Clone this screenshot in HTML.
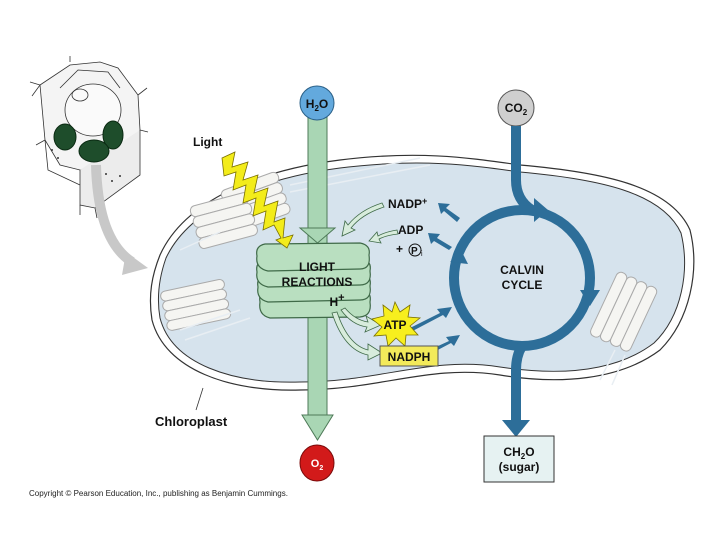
<!DOCTYPE html>
<html><head><style>
html,body{margin:0;padding:0;background:#fff;}
svg{display:block;font-family:"Liberation Sans",Arial,sans-serif;}
</style></head><body>
<svg width="720" height="540" viewBox="0 0 720 540">
<!-- plant cell sketch -->
<g stroke="#333" stroke-width="0.8" fill="#f4f4f4">
<path d="M40 85 L70 65 L100 62 L118 68 L138 95 L140 130 L130 155 L100 165 L80 170 L60 165 L45 140 Z"/>
<path d="M80 170 L80 205 L95 208 L140 175 L140 130" fill="#ececec"/>
<path d="M45 140 L48 170 L80 185" fill="none"/>
<ellipse cx="93" cy="110" rx="28" ry="26" fill="#fafafa"/>
<path d="M60 88 L78 70 L108 72 L120 88" fill="none"/>
<ellipse cx="80" cy="95" rx="8" ry="6" fill="none"/>
<path d="M70 62 L70 56 M40 85 L30 82 M40 85 L32 96 M138 95 L147 88 M140 130 L148 132 M80 205 L80 215 M95 208 L97 218 M45 140 L36 145"/>
</g>
<g fill="#333"><circle cx="98" cy="178" r="1"/><circle cx="106" cy="174" r="1"/><circle cx="112" cy="181" r="1"/><circle cx="100" cy="188" r="1"/><circle cx="120" cy="176" r="1"/><circle cx="52" cy="150" r="1"/><circle cx="58" cy="158" r="1"/></g>
<g fill="#1e4d2b" stroke="#0a2a12" stroke-width="1">
<ellipse cx="65" cy="137" rx="11" ry="13"/>
<ellipse cx="113" cy="135" rx="10" ry="14"/>
<ellipse cx="94" cy="151" rx="15" ry="11"/>
</g>
<!-- grey curved arrow -->
<path d="M96 165 Q98 240 132 262" stroke="#c8c8c8" stroke-width="10" fill="none"/>
<polygon points="126,252 148,268 122,275" fill="#c8c8c8"/>

<!-- chloroplast -->
<path d="M160 255 C185 200 260 170 340 160 C420 150 470 158 520 165 C600 172 670 185 690 230 C700 270 690 320 660 350 C620 380 560 385 500 375 C430 364 380 390 300 390 C230 392 165 370 152 320 C148 295 152 275 160 255 Z" fill="#fff" stroke="#333" stroke-width="1.2"/>
<path d="M166 258 C190 207 262 178 340 168 C420 158 470 165 520 172 C598 179 662 192 681 233 C690 270 682 316 654 343 C616 372 560 376 500 367 C430 356 380 382 300 382 C232 384 172 364 160 318 C156 295 160 275 166 258 Z" fill="#d6e3ed" stroke="#333" stroke-width="1"/>
<line x1="203" y1="388" x2="196" y2="410" stroke="#333" stroke-width="0.8"/>

<!-- background thylakoids -->
<g fill="#f5f5f2" stroke="#aaa" stroke-width="1">
<g transform="rotate(-20 255 200)"><rect x="225" y="180" width="60" height="11" rx="5"/><rect x="225" y="191" width="60" height="11" rx="5"/><rect x="225" y="202" width="60" height="11" rx="5"/><rect x="225" y="213" width="60" height="11" rx="5"/></g>
<g transform="rotate(-15 200 228)"><rect x="195" y="205" width="60" height="11" rx="5"/><rect x="195" y="216" width="60" height="11" rx="5"/><rect x="195" y="227" width="60" height="11" rx="5"/><rect x="195" y="238" width="60" height="11" rx="5"/></g>
<g transform="rotate(-12 190 300)"><rect x="162" y="286" width="65" height="10" rx="5"/><rect x="162" y="296" width="65" height="10" rx="5"/><rect x="162" y="306" width="65" height="10" rx="5"/><rect x="162" y="316" width="65" height="10" rx="5"/></g>
<g transform="rotate(-65 620 310)"><rect x="585" y="292" width="70" height="11" rx="5"/><rect x="585" y="303" width="70" height="11" rx="5"/><rect x="585" y="314" width="70" height="11" rx="5"/><rect x="585" y="325" width="70" height="11" rx="5"/></g>
</g>
<g stroke="#e8eef3" stroke-width="1.5" fill="none">
<path d="M290 185 L420 158"/><path d="M290 192 L430 165"/>
<path d="M180 250 L220 232"/><path d="M180 330 L240 310"/><path d="M185 340 L250 318"/>
<path d="M615 350 L600 380"/><path d="M625 355 L612 385"/>
</g>

<!-- green column -->
<rect x="308" y="115" width="19" height="300" fill="#a9d6b4" stroke="#4e7a58" stroke-width="1"/>
<polygon points="300,228 335,228 317.5,243" fill="#a9d6b4" stroke="#4e7a58"/>
<polygon points="302,415 333,415 317.5,440" fill="#a9d6b4" stroke="#4e7a58"/>
<ellipse cx="317" cy="103" rx="17" ry="17" fill="#63a9dd" stroke="#2a5f86"/>
<text x="317" y="108" font-size="12" font-weight="bold" text-anchor="middle" fill="#111">H<tspan font-size="8" dy="3">2</tspan><tspan dy="-3">O</tspan></text>
<ellipse cx="317" cy="463" rx="17" ry="18" fill="#d21a1a" stroke="#7a0a0a"/>
<text x="317" y="467" font-size="11" font-weight="bold" text-anchor="middle" fill="#fff">O<tspan font-size="7" dy="3">2</tspan></text>

<!-- light reactions stack -->
<g fill="#b9dfc0" stroke="#3f6a48" stroke-width="1.2">
<path d="M260 302 Q258 292 268 290 L362 290 Q372 292 370 302 Q372 316 360 317 L270 318 Q258 315 260 302 Z"/>
<path d="M258 287 Q256 277 266 275 L362 274 Q372 276 370 286 Q372 300 360 300 L268 302 Q256 299 258 287 Z"/>
<path d="M257 272 Q255 262 265 260 L362 259 Q372 261 370 271 Q372 285 360 285 L268 287 Q255 284 257 272 Z"/>
<path d="M257 256 Q255 246 265 244 L360 243 Q371 245 369 255 Q371 269 360 269 L268 271 Q255 268 257 256 Z"/>
</g>
<text x="317" y="271" font-size="12" font-weight="bold" text-anchor="middle" fill="#111">LIGHT</text>
<text x="317" y="286" font-size="12" font-weight="bold" text-anchor="middle" fill="#111">REACTIONS</text>
<text x="337" y="306" font-size="12" font-weight="bold" text-anchor="middle" fill="#111">H<tspan font-size="11" dy="-5">+</tspan></text>

<!-- light -->
<text x="193" y="146" font-size="12" font-weight="bold" fill="#111">Light</text>
<path d="M222 158 L235 152 L232 167 L248 162 L243 180 L258 175 L254 193 L268 188 L264 206 L278 201 L274 222 L285 218 L283 238 L293 235 L287 248 L276 240 L281 238 L274 225 L263 230 L266 211 L253 216 L256 198 L243 203 L246 185 L233 190 L236 172 L224 176 Z" fill="#f3ec1a" stroke="#7a7000" stroke-width="0.8"/>

<!-- CO2 & calvin -->
<ellipse cx="516" cy="108" rx="18" ry="18" fill="#cfcfcf" stroke="#555"/>
<text x="516" y="112" font-size="12" font-weight="bold" text-anchor="middle" fill="#111">CO<tspan font-size="8" dy="3">2</tspan></text>
<path d="M516 126 L516 180 Q516 200 532 210" stroke="#2d6e99" stroke-width="10" fill="none"/>
<circle cx="522" cy="278" r="68" fill="none" stroke="#2d6e99" stroke-width="10"/>
<polygon points="534,198 548,210 534,222" fill="#2d6e99"/>
<polygon points="580,290 590,306 600,290" fill="#2d6e99"/>
<polygon points="462,252 450,262 468,264" fill="#2d6e99"/>
<path d="M522 346 Q516 356 516 370 L516 422" stroke="#2d6e99" stroke-width="10" fill="none"/>
<polygon points="502,420 530,420 516,437" fill="#2d6e99"/>
<text x="522" y="274" font-size="12" font-weight="bold" text-anchor="middle" fill="#111">CALVIN</text>
<text x="522" y="289" font-size="12" font-weight="bold" text-anchor="middle" fill="#111">CYCLE</text>

<rect x="484" y="436" width="70" height="46" fill="#e6f2f2" stroke="#333"/>
<text x="519" y="456" font-size="12" font-weight="bold" text-anchor="middle" fill="#111">CH<tspan font-size="8" dy="3">2</tspan><tspan dy="-3">O</tspan></text>
<text x="519" y="471" font-size="12" font-weight="bold" text-anchor="middle" fill="#111">(sugar)</text>

<!-- NADP+, ADP -->
<text x="388" y="208" font-size="12" font-weight="bold" fill="#111">NADP<tspan font-size="9" dy="-4">+</tspan></text>
<text x="398" y="234" font-size="12" font-weight="bold" fill="#111">ADP</text>
<text x="396" y="253" font-size="12" font-weight="bold" fill="#111">+</text>
<circle cx="415" cy="250" r="6" fill="none" stroke="#111"/>
<text x="411" y="254" font-size="10" font-weight="bold" fill="#111">P</text>
<text x="421" y="256" font-size="7" fill="#111">i</text>
<g fill="#d8ecdc" stroke="#3f6a48" stroke-width="0.8">
<path d="M382 203 Q360 210 348 225 L345 221 L342 236 L355 230 L351 228 Q362 214 384 207 Z"/>
<path d="M397 230 Q385 232 378 236 L377 232 L369 241 L381 243 L379 239 Q387 235 398 234 Z"/>
<path d="M345 308 Q355 320 368 322 L366 316 L381 325 L365 332 L367 327 Q352 325 341 310 Z"/>
<path d="M337 312 Q348 345 368 350 L368 344 L382 353 L368 360 L368 355 Q344 350 332 313 Z"/>
</g>
<g fill="#2d6e99">
<path d="M460 218 L446 208 L450 204 L438 203 L441 214 L444 211 L457 222 Z"/>
<path d="M452 247 L437 238 L440 234 L428 233 L431 244 L434 241 L449 250 Z"/>
<path d="M402 332 L440 313 L437 309 L452 307 L446 318 L443 315 L405 335 Z"/>
<path d="M412 358 L449 341 L446 337 L460 335 L454 346 L451 343 L415 362 Z"/>
</g>
<!-- ATP starburst -->
<polygon points="395,302 400,312 410,305 408,317 420,318 410,326 418,335 406,335 405,346 396,338 388,346 386,335 374,336 382,327 372,319 384,316 383,305 392,312" fill="#f7ef1e" stroke="#7a7000" stroke-width="0.8"/>
<text x="395" y="329" font-size="12" font-weight="bold" text-anchor="middle" fill="#111">ATP</text>
<rect x="380" y="346" width="58" height="20" fill="#f3ea5a" stroke="#555"/>
<text x="409" y="361" font-size="12" font-weight="bold" text-anchor="middle" fill="#111">NADPH</text>

<text x="155" y="426" font-size="13" font-weight="bold" fill="#111">Chloroplast</text>
<text x="29" y="496" font-size="8" fill="#222">Copyright © Pearson Education, Inc., publishing as Benjamin Cummings.</text>
</svg>
</body></html>
